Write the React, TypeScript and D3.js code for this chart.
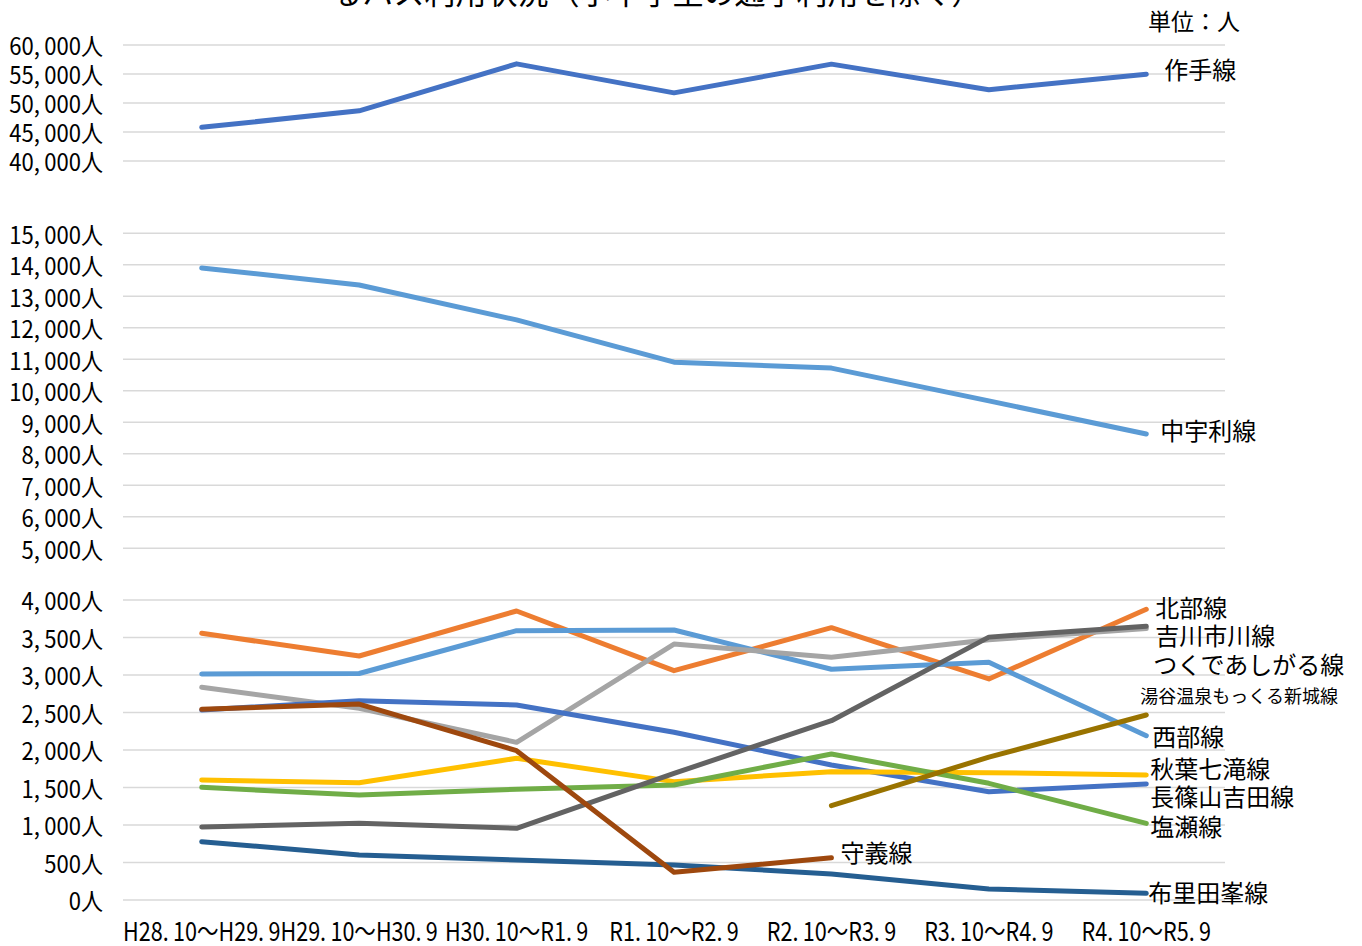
import React, { useEffect, useRef } from "react";
import * as d3 from "d3";

// 期間
const periods = [
  "H28.10～H29.9",
  "H29.10～H30.9",
  "H30.10～R1.9",
  "R1.10～R2.9",
  "R2.10～R3.9",
  "R3.10～R4.9",
  "R4.10～R5.9",
];

// 路線ごとの利用者数（人）
const sakuteValues = [45800, 48650, 56750, 51750, 56700, 52300, 54950];
const nakauriValues = [13900, 13360, 12250, 10910, 10720, 9680, 8630];
const hokubuValues = [3556, 3253, 3853, 3058, 3631, 2947, 3876];
const seibuValues = [3013, 3020, 3591, 3600, 3076, 3169, 2191];
const tsukudeAshigaruValues = [2836, 2556, 2102, 3413, 3236, 3470, 3620];
const nagashinoValues = [2533, 2658, 2600, 2236, 1800, 1444, 1547];
const akibaValues = [1600, 1564, 1889, 1578, 1711, 1698, 1667];
const shioseValues = [1502, 1400, 1476, 1533, 1947, 1556, 1022];
const furiValues = [778, 600, 533, 467, 347, 147, 89];
const yoshikawaValues = [973, 1022, 956, 1689, 2391, 3505, 3650];
const shugiValues = [2542, 2613, 1991, 369, 564, null, null];
const yuyaValues = [null, null, null, null, 1258, 1905, 2467];

// 軸の目盛
const topTicks = [40000, 45000, 50000, 55000, 60000];
const midTicks = [5000, 6000, 7000, 8000, 9000, 10000, 11000, 12000, 13000, 14000, 15000];
const bottomTicks = [0, 500, 1000, 1500, 2000, 2500, 3000, 3500, 4000];

type Panel = "top" | "mid" | "bottom";
interface ISeries {
  name: string
  values: (number | null)[]
  color: string
  panel: Panel
  dx: number
  dy: number
  small?: boolean
}

const series: ISeries[] = [
  { name: "作手線", values: sakuteValues, color: "#4472C4", panel: "top", dx: 18, dy: -6 },
  { name: "中宇利線", values: nakauriValues, color: "#5B9BD5", panel: "mid", dx: 14, dy: -4 },
  { name: "北部線", values: hokubuValues, color: "#ED7D31", panel: "bottom", dx: 9, dy: -3 },
  { name: "西部線", values: seibuValues, color: "#5B9BD5", panel: "bottom", dx: 6, dy: 0 },
  { name: "つくであしがる線", values: tsukudeAshigaruValues, color: "#A5A5A5", panel: "bottom", dx: 7, dy: 35 },
  { name: "長篠山吉田線", values: nagashinoValues, color: "#4472C4", panel: "bottom", dx: 4, dy: 12 },
  { name: "秋葉七滝線", values: akibaValues, color: "#FFC000", panel: "bottom", dx: 4, dy: -7 },
  { name: "塩瀬線", values: shioseValues, color: "#70AD47", panel: "bottom", dx: 4, dy: 2 },
  { name: "布里田峯線", values: furiValues, color: "#255E91", panel: "bottom", dx: 2, dy: -2 },
  { name: "吉川市川線", values: yoshikawaValues, color: "#636363", panel: "bottom", dx: 9, dy: 8 },
  { name: "守義線", values: shugiValues, color: "#9E480E", panel: "bottom", dx: 9, dy: -6 },
  { name: "湯谷温泉もっくる新城線", values: yuyaValues, color: "#997300", panel: "bottom", dx: -6, dy: -20, small: true },
];

const FONT = "'Noto Sans CJK JP', 'Noto Sans', sans-serif";

const App: React.FC = (): JSX.Element => {
  const ref = useRef<SVGSVGElement>(null);

  useEffect(() => {
    const width = 1362, height = 946;
    const left = 123, right = 1225;

    const svg = d3.select(ref.current)
      .attr("width", width)
      .attr("height", height)
      .attr("viewBox", `0 0 ${width} ${height}`);
    svg.selectAll("*").remove();

    const x = d3.scaleBand<string>()
      .domain(periods)
      .range([left, right]);
    const cx = (p: string) => (x(p) || 0) + x.bandwidth() / 2;

    const yScales: Record<Panel, d3.ScaleLinear<number, number>> = {
      top: d3.scaleLinear().domain([40000, 60000]).range([161, 45]),
      mid: d3.scaleLinear().domain([5000, 15000]).range([548.3, 233.3]),
      bottom: d3.scaleLinear().domain([0, 4000]).range([900, 600]),
    };
    const ticks: Record<Panel, number[]> = { top: topTicks, mid: midTicks, bottom: bottomTicks };
    const fmt = (d: number) => d3.format(",")(d).replace(",", ",\u2009") + "人";

    // タイトル（上部が切れている）
    svg.append("text")
      .attr("x", 657)
      .attr("y", 4)
      .attr("text-anchor", "middle")
      .style("font-family", FONT)
      .style("font-size", "31px")
      .attr("fill", "#000")
      .text("るバス利用状況（小中学生の通学利用を除く）");

    svg.append("text")
      .attr("x", 1240)
      .attr("y", 20)
      .attr("text-anchor", "end")
      .attr("dominant-baseline", "central")
      .style("font-family", FONT)
      .style("font-size", "23px")
      .attr("fill", "#000")
      .text("単位：人");

    (Object.keys(yScales) as Panel[]).forEach(panel => {
      const y = yScales[panel];
      const g = svg.append("g");
      g.selectAll("line")
        .data(ticks[panel])
        .enter().append("line")
        .attr("x1", left)
        .attr("x2", right)
        .attr("y1", d => y(d))
        .attr("y2", d => y(d))
        .attr("stroke", "#D9D9D9")
        .attr("stroke-width", 1.5);
      g.selectAll("text")
        .data(ticks[panel])
        .enter().append("text")
        .attr("transform", d => `translate(103, ${y(d)}) scale(0.92, 1)`)
        .attr("text-anchor", "end")
        .attr("dominant-baseline", "central")
        .style("font-family", FONT)
        .style("font-size", "24px")
        .attr("fill", "#000")
        .text(d => fmt(d));
    });

    // x軸ラベル
    svg.append("g")
      .selectAll("text")
      .data(periods)
      .enter().append("text")
      .attr("transform", d => `translate(${cx(d)}, 930) scale(0.83, 1)`)
      .attr("text-anchor", "middle")
      .attr("dominant-baseline", "central")
      .style("font-family", FONT)
      .style("font-size", "26px")
      .attr("fill", "#000")
      .text(d => d.replace(/\./g, ".\u2009"));

    // 折れ線
    series.forEach(s => {
      const y = yScales[s.panel];
      const pts = periods
        .map((p, i) => ({ p, v: s.values[i] }))
        .filter(d => d.v !== null) as { p: string, v: number }[];
      const line = d3.line<{ p: string, v: number }>()
        .x(d => cx(d.p))
        .y(d => y(d.v));
      svg.append("path")
        .datum(pts)
        .attr("d", line)
        .attr("fill", "none")
        .attr("stroke", s.color)
        .attr("stroke-width", 5)
        .attr("stroke-linejoin", "round")
        .attr("stroke-linecap", "round");
    });

    // ラベル
    series.forEach(s => {
      const y = yScales[s.panel];
      let last = s.values.length - 1;
      while (s.values[last] === null) last--;
      svg.append("text")
        .attr("x", cx(periods[last]) + s.dx)
        .attr("y", y(s.values[last] as number) + s.dy)
        .attr("dominant-baseline", "central")
        .style("font-family", FONT)
        .style("font-size", s.small ? "18px" : "24px")
        .attr("fill", "#000")
        .text(s.name);
    });
  });

  return (
    <div className="chart">
      <svg ref={ref} style={{ position: "absolute", left: 0, top: 0 }}></svg>
    </div>
  );
};

export default App;
